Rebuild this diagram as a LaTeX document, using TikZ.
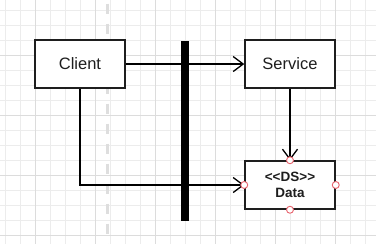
\documentclass[tikz,border=0pt]{standalone}
\usepackage{fontspec}
\setmainfont{Liberation Sans}
\usepackage{tikz}
\usetikzlibrary{arrows.meta}

\definecolor{ink}{RGB}{30,30,30}
\definecolor{gridminor}{RGB}{236,236,236}
\definecolor{gridmajor}{RGB}{220,220,220}
\definecolor{portred}{RGB}{232,100,110}

\tikzset{
    box/.style={draw=ink, line width=1.5pt, fill=white, minimum width=90pt,
        minimum height=48pt, inner sep=0pt, text=ink,
        font=\fontsize{16.5}{19}\selectfont},
    flow/.style={draw=black, line width=1.3pt,
        -{Straight Barb[length=10pt,width=15pt,line width=1.3pt]}},
    port/.style={circle, draw=portred, fill=white, line width=0.9pt,
        minimum size=7pt, inner sep=0pt}
}

\begin{document}
\begin{tikzpicture}[x=1pt,y=-1pt]
        % paper and grid
        \fill[white] (0,0) rectangle (376,244);
        \useasboundingbox (0,0) rectangle (376,244);
        \foreach \x in {5.5,20.5,...,376}
            \draw[gridminor, line width=1pt] (\x,0) -- (\x,244);
        \foreach \y in {10.3,25.3,...,244}
            \draw[gridminor, line width=1pt] (0,\y) -- (376,\y);
        \foreach \x in {35.5,95.5,...,376}
            \draw[gridmajor, line width=1pt] (\x,0) -- (\x,244);
        \foreach \y in {55.3,115.3,...,244}
            \draw[gridmajor, line width=1pt] (0,\y) -- (376,\y);
        \draw[black!13, line width=3pt, dash pattern=on 10pt off 10pt] (107,3.7) -- (107,244);

        % classes
        \node[box] (client) at (80,64) {Client};
        \node[box] (service) at (290,64) {Service};
        \node[box, align=center, font=\bfseries\fontsize{13.5}{16.5}\selectfont] (data) at (290,185)
            {<{}<DS>{}>\\Data};

        % links
        \draw[flow] (client) -- (service);
        \draw[flow] (client.south) |- (data.west);
        \draw[flow] (service) -- (data);

        % synchronisation bar
        \node[fill=black, minimum width=8pt, minimum height=180pt, inner sep=0pt] (bar) at (185,131) {};

        \foreach \a in {north,west,east,south}
            \node[port] (data-\a) at (data.\a) {};
    \end{tikzpicture}
\end{document}
